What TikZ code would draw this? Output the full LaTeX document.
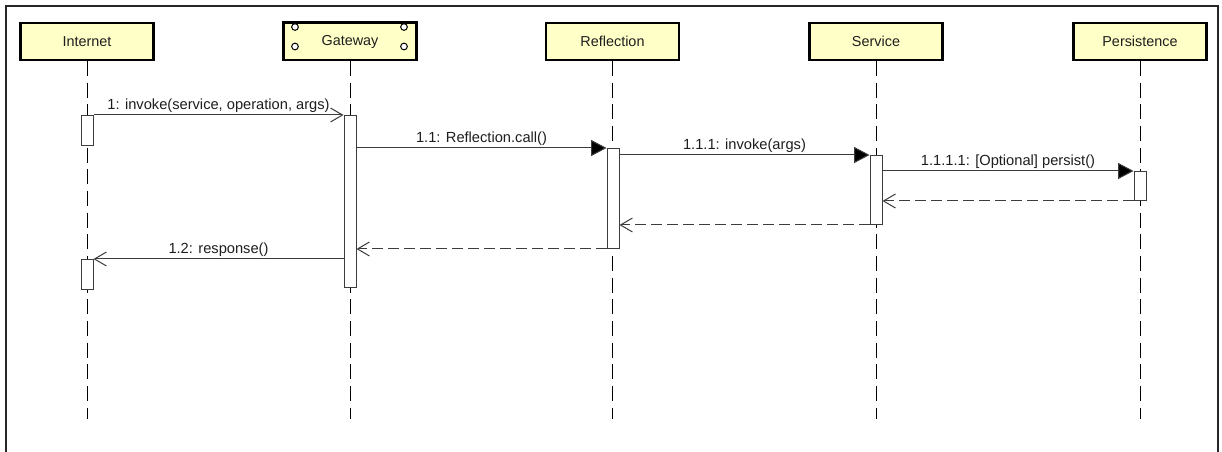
\documentclass[tikz,border=0pt]{standalone}
\usepackage{fontspec}
\setmainfont{Liberation Sans}
\usetikzlibrary{arrows.meta}
\definecolor{headfill}{RGB}{255,255,200}
\definecolor{linegray}{RGB}{60,60,60}
\definecolor{txt}{RGB}{30,30,30}
\tikzset{
  head/.style={draw=black, line width=1.6pt, fill=headfill, minimum width=99.75pt,
    minimum height=27.75pt, inner sep=0pt, text=txt, font=\fontsize{10.8}{12}\selectfont},
  lifeline/.style={draw=black, line width=0.75pt, dash pattern=on 11.25pt off 5pt},
  act/.style={draw=linegray, line width=0.75pt, fill=white, minimum width=9pt,
    inner sep=0pt, anchor=north},
  callmsg/.style={draw=linegray, line width=0.75pt, -{Triangle[length=11.5pt, width=12pt, fill=black]}},
  asyncmsg/.style={draw=linegray, line width=0.75pt, -{Straight Barb[length=9pt, width=10.5pt, line width=0.75pt]}},
  retmsg/.style={draw=linegray, line width=0.75pt, dash pattern=on 8pt off 4pt,
    -{Straight Barb[length=9pt, width=10.5pt, line width=0.75pt, line cap=butt]}},
  msglabel/.style={anchor=base, inner sep=0pt, text=txt, font=\fontsize{11}{13}\selectfont},
  port/.style={draw=black, line width=0.75pt, fill=white, circle, inner sep=0pt, minimum size=5pt}
}
\begin{document}
\begin{tikzpicture}[x=0.75pt, y=-0.75pt]
  \useasboundingbox (0,0) rectangle (1222,452);
  \clip (0,0) rectangle (1222,452);
  \fill[white] (0,0) rectangle (1222,452);

  % diagram frame (continues below the page)
  \draw[draw=black!85, line width=1.7pt] (6,6) rectangle (1218,480);

  % lifeline heads
  \node[head] (internet) at (87,41.5) {Internet};
  \node[head] (gateway) at (350,41.5) {Gateway};
  \node[head] (reflection) at (612.5,41.5) {Reflection};
  \node[head] (service) at (876,41.5) {Service};
  \node[head] (persistence) at (1140,41.5) {Persistence};

  % ports on the gateway head
  \node[port] (gwp1) at (295,27) {};
  \node[port] (gwp2) at (295,46.5) {};
  \node[port] (gwp3) at (404,27) {};
  \node[port] (gwp4) at (404,46.5) {};
  \draw[black, line width=1.6pt] (gateway.north west) -- (gateway.north east);

  % lifelines
  \coordinate (internet-end) at (87,419);
  \coordinate (gateway-end) at (350,419);
  \coordinate (reflection-end) at (612.5,419);
  \coordinate (service-end) at (876,419);
  \coordinate (persistence-end) at (1140,419);
  \draw[lifeline] (internet.south) -- (internet-end);
  \draw[lifeline] (gateway.south) -- (gateway-end);
  \draw[lifeline] (reflection.south) -- (reflection-end);
  \draw[lifeline] (service.south) -- (service-end);
  \draw[lifeline] (persistence.south) -- (persistence-end);

  % activation bars
  \node[act, minimum height=22.5pt] (ia1) at (87,115) {};
  \node[act, minimum height=129pt] (ga) at (350,115) {};
  \node[act, minimum height=75pt] (ra) at (613,148) {};
  \node[act, minimum height=51.75pt] (sa) at (876,155) {};
  \node[act, minimum height=21.75pt] (pa) at (1140,171) {};
  \node[act, minimum height=22.5pt] (ia2) at (87,259) {};

  % messages
  \draw[asyncmsg] (ia1.north east) -- node[msglabel, yshift=4pt] {1: invoke(service, operation, args)} (ga.north west);
  \draw[callmsg] (ga.east |- ra.north) -- node[msglabel, yshift=4pt] {1.1: Reflection.call()} (ra.north west);
  \draw[callmsg] (ra.east |- sa.north) -- node[msglabel, yshift=4pt] {1.1.1: invoke(args)} (sa.north west);
  \draw[callmsg] (sa.east |- pa.north) -- node[msglabel, yshift=4pt] {1.1.1.1: [Optional] persist()} (pa.north west);

  % replies
  \draw[retmsg] (pa.south west) -- (sa.east |- pa.south);
  \draw[retmsg] (sa.south west) -- (ra.east |- sa.south);
  \draw[retmsg] (ra.south west) -- (ga.east |- ra.south);
  \draw[asyncmsg] (ga.west |- ia2.north) -- node[msglabel, yshift=4pt] {1.2: response()} (ia2.north east);
\end{tikzpicture}
\end{document}
